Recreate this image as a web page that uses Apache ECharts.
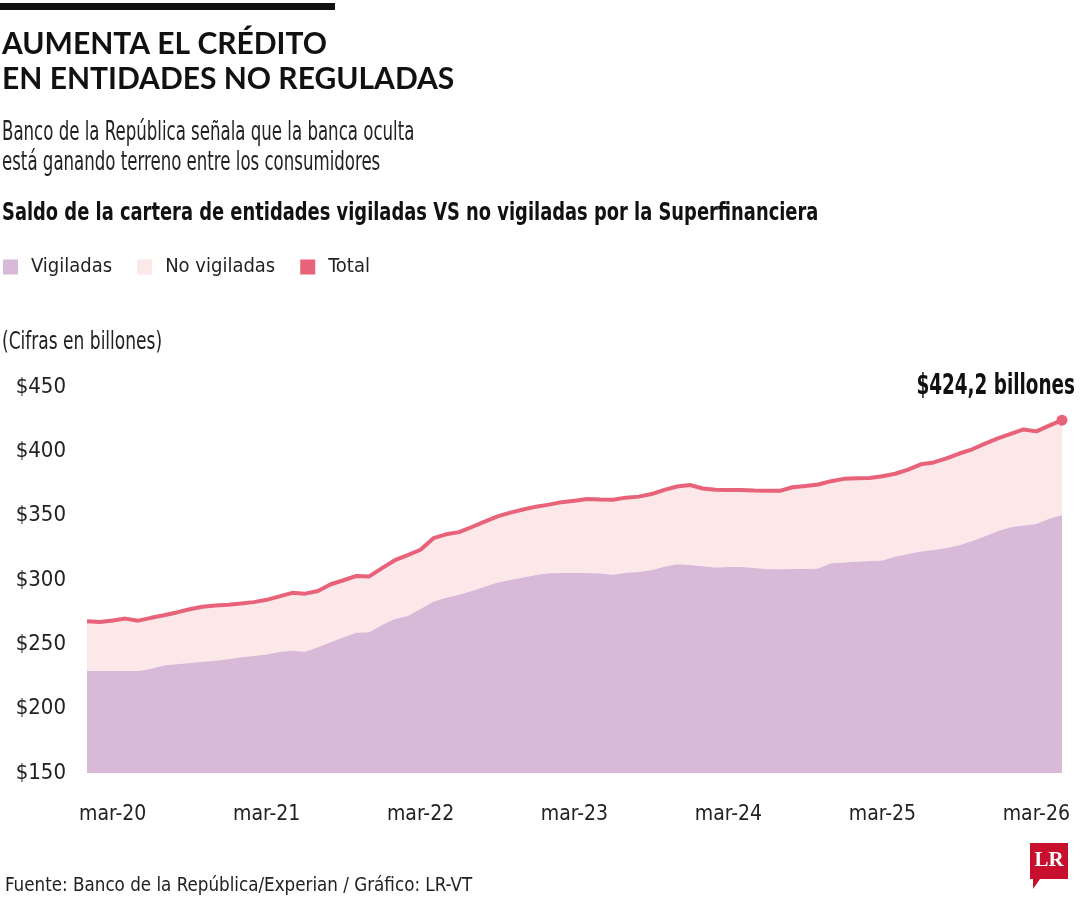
<!DOCTYPE html>
<html><head><meta charset="utf-8">
<script src="https://cdn.jsdelivr.net/npm/echarts@6/dist/echarts.min.js"></script>
<style>html,body{margin:0;padding:0;background:#fff}#c{width:1080px;height:900px}</style>
</head><body><div id="c"></div>
<script>
// ---- data ----
const monthNames = ['ene','feb','mar','abr','may','jun','jul','ago','sep','oct','nov','dic'];
const years = ['20','21','22','23','24','25','26'];
const categories = [];
years.forEach(y => monthNames.forEach(m => categories.push(m + '-' + y)));
categories.length = 77; // ene-20 ... may-26

const vigiladas = [
229.3, 229.3, 229.3, 229.3, 229.2, 231.0, 233.5, 234.6, 235.5, 236.5,
237.3, 238.5, 239.9, 240.9, 242.1, 244.0, 245.0, 244.3, 247.8, 251.6,
255.5, 259.0, 259.4, 265.0, 269.6, 272.0, 277.5, 283.0, 286.2, 288.5,
291.5, 294.8, 298.0, 300.0, 302.0, 303.8, 305.2, 305.4, 305.4, 305.4,
305.0, 304.0, 305.6, 306.3, 307.5, 310.3, 312.3, 311.7, 310.7, 309.8,
310.1, 310.2, 309.3, 308.6, 308.4, 308.5, 308.6, 309.0, 313.0, 313.6,
314.2, 314.7, 315.2, 318.0, 320.3, 322.1, 323.3, 324.8, 327.1, 330.4,
334.0, 338.0, 341.0, 342.4, 343.5, 347.7, 350.5
];
const total = [
267.9, 267.3, 268.6, 270.0, 268.4, 270.6, 272.6, 274.8, 277.3, 279.2,
280.2, 280.8, 281.7, 282.8, 284.6, 287.3, 290.0, 289.4, 291.5, 296.7,
299.8, 303.2, 302.8, 309.2, 315.4, 319.4, 323.5, 332.5, 335.5, 337.2,
341.2, 345.4, 349.4, 352.4, 354.8, 357.0, 358.6, 360.5, 361.6, 363.0,
362.5, 362.3, 364.0, 364.8, 366.8, 370.0, 372.7, 373.8, 371.1, 370.1,
369.9, 369.9, 369.5, 369.3, 369.3, 372.1, 373.0, 374.2, 376.8, 378.6,
379.0, 379.3, 380.7, 382.6, 385.8, 389.9, 391.4, 394.5, 398.3, 401.6,
406.0, 410.0, 413.5, 417.0, 415.5, 420.0, 424.2
];
const noVigiladas = total.map((t, i) => +(t - vigiladas[i]).toFixed(1));
const yTicks = [150, 200, 250, 300, 350, 400, 450];
const lastLabel = '$424,2 billones';

// ---- style ----
const COND = '"Liberation Sans Narrow", "DejaVu Sans Condensed", "Roboto", sans-serif';
const C_VIG = '#d8b9d8', C_NOV = '#fde8e9', C_TOT = '#e8627a';
const last = total.length - 1;

function txt(id, x, y, text, font, scaleX, extra) {
  return Object.assign({id: id, type: 'text', x: x, y: y, scaleX: scaleX || 1,
    style: Object.assign({text: text, font: font, fill: '#222', textAlign: 'left', textVerticalAlign: 'top'}, (extra || {}))});
}

const chart = echarts.init(document.getElementById('c'), null, {renderer: 'canvas'});
chart.setOption({
  backgroundColor: '#fff',
  animation: false,
  textStyle: {fontFamily: COND},
  grid: {left: 87, right: 18, top: 387, bottom: 127},
  legend: {
    left: 3, top: 257, padding: 0, icon: 'rect', itemWidth: 15, itemHeight: 15, itemGap: 25,
    textStyle: {fontFamily: COND, fontSize: 20, color: '#222', padding: [0, 0, 0, 8]},
    data: ['Vigiladas', 'No vigiladas', 'Total']
  },
  xAxis: {
    type: 'category', data: categories, boundaryGap: false,
    axisLine: {show: false}, axisTick: {show: false}, splitLine: {show: false},
    axisLabel: {
      interval: (i) => i % 12 === 2, margin: 31,
      fontFamily: COND, fontSize: 21, color: '#222'
    }
  },
  yAxis: {
    type: 'value', min: yTicks[0], max: yTicks[yTicks.length - 1], interval: 50,
    axisLine: {show: false}, axisTick: {show: false}, splitLine: {show: false},
    axisLabel: {formatter: v => '$' + v, margin: 21, fontFamily: COND, fontSize: 22, color: '#222'}
  },
  series: [
    {name: 'Vigiladas', type: 'line', stack: 'a', data: vigiladas, symbol: 'none',
     color: C_VIG, lineStyle: {width: 0}, areaStyle: {color: C_VIG, opacity: 1}, z: 2},
    {name: 'No vigiladas', type: 'line', stack: 'a', data: noVigiladas, symbol: 'none',
     color: C_NOV, lineStyle: {width: 0}, areaStyle: {color: C_NOV, opacity: 1}, z: 1},
    {name: 'Total', type: 'line', data: total,
     color: C_TOT, showSymbol: true, symbol: 'circle',
     symbolSize: (v, p) => p.dataIndex === last ? 11 : 0,
     itemStyle: {color: C_TOT}, lineStyle: {width: 4, color: C_TOT}, z: 5}
  ],
  graphic: [
    {id: 'bar', type: 'rect', shape: {x: 0, y: 3, width: 335, height: 7}, style: {fill: '#111'}},
    txt('title', 2, 27, 'AUMENTA EL CRÉDITO\nEN ENTIDADES NO REGULADAS', 'bold 30px Lato, "Open Sans", sans-serif', 1, {fill: '#111', lineHeight: 35}),
    txt('sub', 2, 118, 'Banco de la República señala que la banca oculta\nestá ganando terreno entre los consumidores', '26px ' + COND, 0.71, {lineHeight: 30}),
    txt('ctitle', 2, 201, 'Saldo de la cartera de entidades vigiladas VS no vigiladas por la Superfinanciera', 'bold 25px ' + COND, 0.795, {fill: '#111'}),
    txt('units', 2, 331, '(Cifras en billones)', '24px ' + COND, 0.79),
    txt('src', 5, 877, 'Fuente: Banco de la República/Experian / Gráfico: LR-VT', '19px ' + COND, 0.98),
    {id: 'logo', type: 'group', x: 1030, y: 843, children: [
      {type: 'polygon', shape: {points: [[0,0],[38,0],[38,36],[10,36],[3,46],[3,36],[0,36]]}, style: {fill: '#c8102e'}},
      {type: 'text', x: 19, y: 18, style: {text: 'LR', font: 'bold 21px "Liberation Serif", "DejaVu Serif", serif', fill: '#fff', textAlign: 'center', textVerticalAlign: 'middle'}}
    ]}
  ]
});

// annotation for the last value, positioned from the chart's own scales
const pt = chart.convertToPixel({gridIndex: 0}, [categories[last], total[last]]);
chart.setOption({graphic: [
  txt('anno', pt[0] + 13, pt[1] - 33, lastLabel, 'bold 28px ' + COND, 0.73, {fill: '#111', textAlign: 'right', textVerticalAlign: 'middle'})
]});
</script></body></html>
